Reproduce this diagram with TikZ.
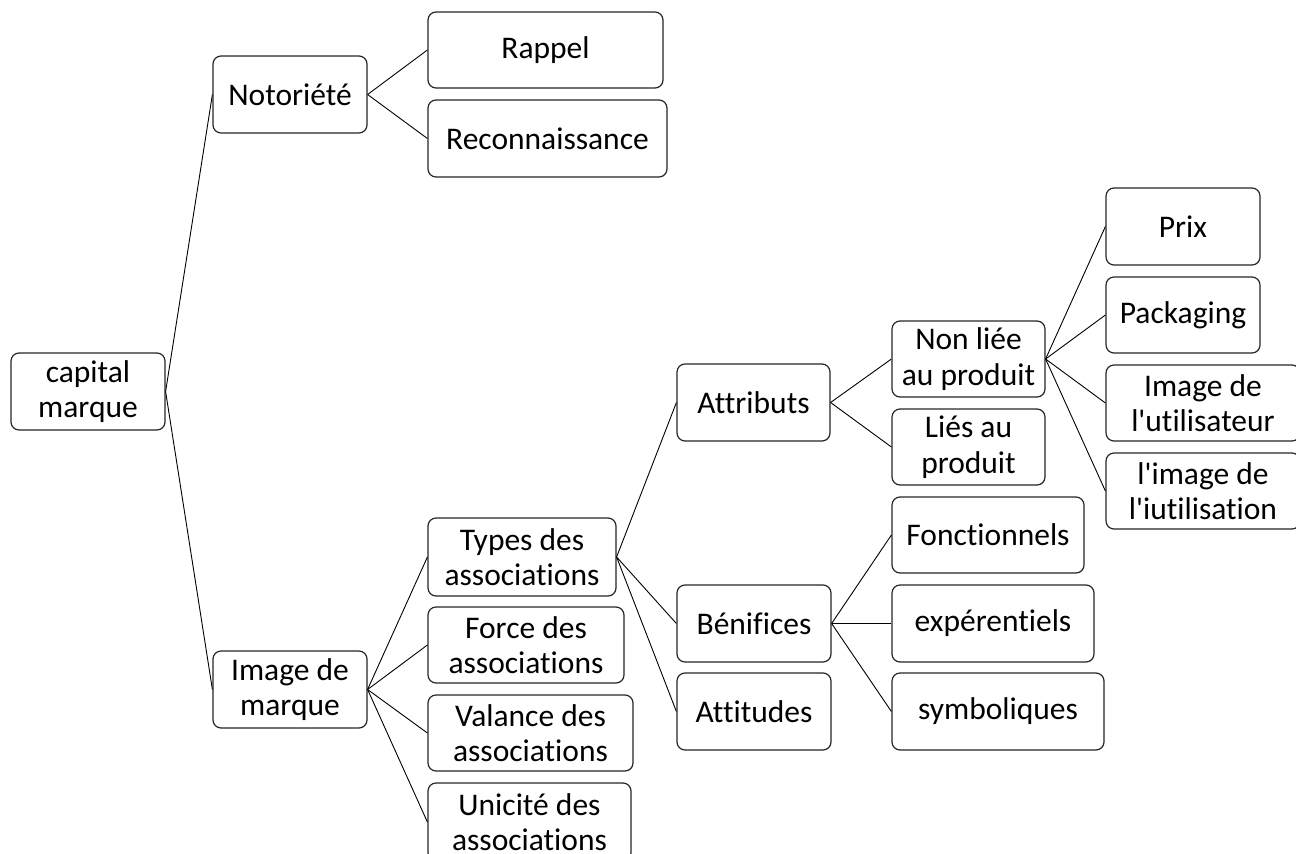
\documentclass[tikz,border=0pt]{standalone}
\usepackage{fontspec}
\setmainfont{Carlito}[Ligatures=NoCommon]
\newcommand{\q}{\textquotesingle}
\tikzset{
  box/.style={draw=black!85, line width=1.2pt, rounded corners=8pt, align=center,
    inner sep=0pt, font=\fontsize{31.5}{35.5}\selectfont, fill=white},
  link/.style={draw=black, line width=0.9pt}
}
\newcommand{\bx}[6]{\node[box, minimum width={(#4-#2)*1pt}, minimum height={(#5-#3)*1pt}] (#1) at ({(#2+#4)/2},{(#3+#5)/2}) {#6};}
\begin{document}
\begin{tikzpicture}[x=1pt,y=-1pt]
\useasboundingbox (0,0) rectangle (1296,854);
\clip (0,0) rectangle (1296,854);
\bx{cap}{11}{353}{165}{430}{capital\\marque}
\bx{noto}{213}{56}{367}{133}{Notoriété}
\bx{rap}{428}{12}{663}{88}{Rappel}
\bx{rec}{428}{100}{667}{177}{Reconnaissance}
\bx{img}{213}{651}{367}{728}{Image de\\marque}
\bx{typ}{428}{518}{616}{596}{Types des\\associations}
\bx{for}{428}{607}{624}{683}{Force des\\associations}
\bx{val}{428}{695}{633}{771}{Valance des\\associations}
\bx{uni}{428}{783}{631}{861}{Unicité des\\associations}
\bx{att}{677}{364}{830}{441}{Attributs}
\bx{ben}{677}{585}{831}{662}{Bénifices}
\bx{atd}{677}{673}{831}{750}{Attitudes}
\bx{non}{892}{321}{1045}{397}{Non liée\\au produit}
\bx{lie}{892}{409}{1045}{485}{Liés au\\produit}
\bx{fon}{892}{497}{1084}{573}{Fonctionnels}
\bx{exp}{892}{585}{1094}{662}{expérentiels}
\bx{sym}{892}{673}{1104}{750}{symboliques}
\bx{prix}{1106}{188}{1260}{265}{Prix}
\bx{pack}{1106}{277}{1260}{353}{Packaging}
\bx{iutr}{1106}{365}{1300}{441}{Image de\\l\q utilisateur}
\bx{iuti}{1106}{453}{1300}{529}{l\q image de\\l\q iutilisation}
\path[link] (cap.east) -- (noto.west);
\path[link] (cap.east) -- (img.west);
\path[link] (noto.east) -- (rap.west);
\path[link] (noto.east) -- (rec.west);
\path[link] (img.east) -- (typ.west);
\path[link] (img.east) -- (for.west);
\path[link] (img.east) -- (val.west);
\path[link] (img.east) -- (uni.west);
\path[link] (typ.east) -- (att.west);
\path[link] (typ.east) -- (ben.west);
\path[link] (typ.east) -- (atd.west);
\path[link] (att.east) -- (non.west);
\path[link] (att.east) -- (lie.west);
\path[link] (non.east) -- (prix.west);
\path[link] (non.east) -- (pack.west);
\path[link] (non.east) -- (iutr.west);
\path[link] (non.east) -- (iuti.west);
\path[link] (ben.east) -- (fon.west);
\path[link] (ben.east) -- (exp.west);
\path[link] (ben.east) -- (sym.west);
\end{tikzpicture}
\end{document}
